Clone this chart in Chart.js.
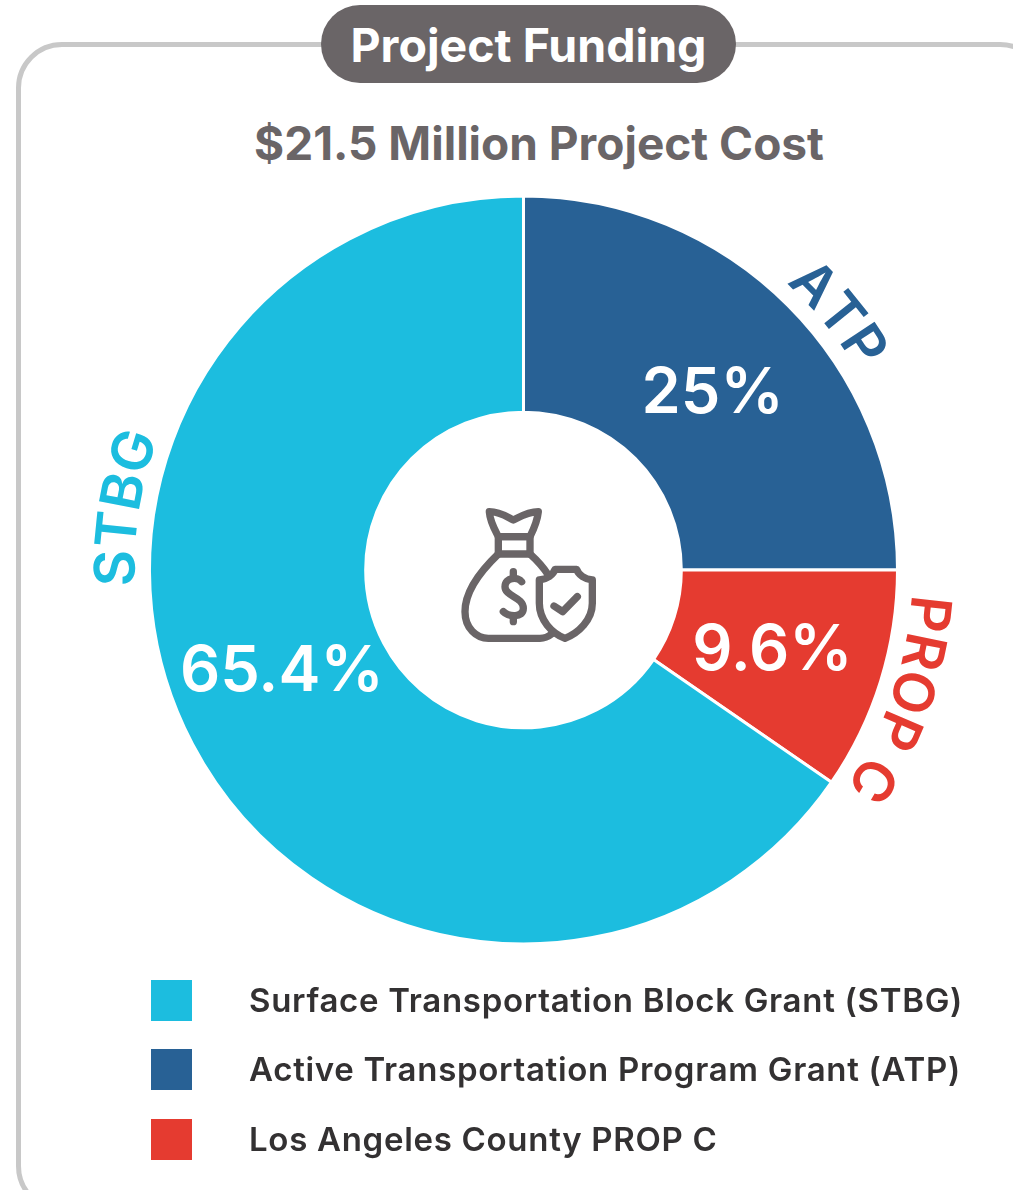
<!DOCTYPE html>
<html>
<head>
<meta charset="utf-8">
<title>Project Funding</title>
<script src="https://cdn.jsdelivr.net/npm/chart.js@4/dist/chart.umd.min.js"></script>
<style>
    html, body { margin: 0; padding: 0; background: #fff; }
    body { position: relative; width: 1013px; height: 1190px; overflow: hidden; font-family: Inter, sans-serif; }
    .frame { position: absolute; left: 16px; top: 42px; width: 1020px; height: 1160px; border: 5px solid #c8c8c8; border-radius: 46px; }
    .pill { position: absolute; left: 321px; top: 5px; width: 415px; height: 78px; border-radius: 39px; background: #6a6567;
            color: #fff; font-size: 46.5px; font-weight: 700; line-height: 80px; text-align: center; }
    .subtitle { position: absolute; left: 239px; top: 113px; width: 600px; text-align: center; color: #6a6567;
                font-size: 46px; font-weight: 700; line-height: 60px; }
    #fundingChart { position: absolute; left: 0; top: 0; }
    .icon { position: absolute; left: 430px; top: 480px; }
    .legend-row { position: absolute; left: 151px; height: 41px; }
    .legend-box { position: absolute; left: 0; top: 0; width: 41px; height: 41px; }
    .legend-text { position: absolute; left: 98px; top: 0; line-height: 41px; font-size: 33px; font-weight: 600; letter-spacing: 0.7px; color: #333132; white-space: nowrap; }
</style>
</head>
<body>
<div class="frame"></div>
<div class="pill">Project Funding</div>
<div class="subtitle">$21.5 Million Project Cost</div>
<canvas id="fundingChart" width="1013" height="1190"></canvas>
<svg class="icon" width="190" height="180" viewBox="0 0 570 540" fill="none" stroke="#6a6567" stroke-width="22" stroke-linecap="round" stroke-linejoin="round">
    <path d="M178 95 C210 95 230 110 250 120 C270 110 295 95 325 95 C322 125 310 150 300 170 H205 C195 150 180 125 178 95 Z"/>
    <rect x="205" y="170" width="95" height="52"/>
    <path d="M205 222 C160 265 105 330 105 395 C105 445 140 475 175 475 H330 C345 475 355 470 365 462"/>
    <path d="M300 222 C320 240 340 262 355 285"/>
    <path d="M275 305 C265 290 225 290 225 320 C225 350 280 350 280 385 C280 415 235 410 220 395"/>
    <path d="M250 275 V295 M250 408 V425"/>
    <path d="M375 268 H440 C445 285 465 298 487 300 V370 C487 420 445 460 405 475 C365 460 328 420 328 370 V300 C350 298 370 285 375 268 Z"/>
    <path d="M372 378 L398 395 L442 350"/>
</svg>
<div id="legend"></div>

<script>
const categories = ['Active Transportation Program Grant (ATP)', 'Los Angeles County PROP C', 'Surface Transportation Block Grant (STBG)'];
const shortNames = ['ATP', 'PROP C', 'STBG'];
const shares = [25, 9.6, 65.4];
const shareLabels = ['25%', '9.6%', '65.4%'];
const colors = ['#286195', '#e53b30', '#1cbddf'];

// legend runs in a different order than the slices
const legendOrder = [2, 0, 1];
const legendTops = [980, 1049, 1119];

// label placement around the ring, degrees clockwise from 12 o'clock
const shareAngles = [46.5, 107.3, 248];
const nameAngles = [50.5, 108.8, 278.8];

const ringLabels = {
    id: 'ringLabels',
    afterDatasetsDraw(chart) {
        const ctx = chart.ctx;
        const arcs = chart.getDatasetMeta(0).data;
        const cx = arcs[0].x;
        const cy = arcs[0].y;
        const outer = arcs[0].outerRadius;

        ctx.save();
        ctx.textBaseline = 'middle';
        ctx.textAlign = 'center';
        ctx.fillStyle = '#fff';
        ctx.font = '600 63px Inter';
        shareLabels.forEach((label, i) => {
            const a = shareAngles[i] * Math.PI / 180;
            // +4 because Inter digits sit above the middle baseline
            ctx.fillText(label, cx + Math.sin(a) * (outer * 0.697), cy - Math.cos(a) * (outer * 0.697) + 4);
        });

        // names follow the outside of the ring, one letter at a time
        ctx.font = '600 56px Inter';
        ctx.textBaseline = 'alphabetic';
        const baseline = outer + 15;
        shortNames.forEach((name, i) => {
            const total = ctx.measureText(name).width;
            let a = nameAngles[i] * Math.PI / 180 - (total / 2) / baseline;
            ctx.fillStyle = colors[i];
            for (const ch of name) {
                const w = ctx.measureText(ch).width;
                const mid = a + (w / 2) / baseline;
                ctx.save();
                ctx.translate(cx + Math.sin(mid) * baseline, cy - Math.cos(mid) * baseline);
                ctx.rotate(mid);
                ctx.fillText(ch, 0, 0);
                ctx.restore();
                a += w / baseline;
            }
        });
        ctx.restore();
    }
};

function renderLegend() {
    const container = document.getElementById('legend');
    container.innerHTML = legendOrder.map((idx, row) => `
        <div class="legend-row" style="top: ${legendTops[row]}px">
            <div class="legend-box" style="background: ${colors[idx]}"></div>
            <div class="legend-text">${categories[idx]}</div>
        </div>
    `).join('');
}

function renderChart() {
    new Chart(document.getElementById('fundingChart'), {
        type: 'doughnut',
        data: {
            labels: categories,
            datasets: [{
                data: shares,
                backgroundColor: colors,
                borderColor: '#fff',
                borderWidth: 3
            }]
        },
        options: {
            responsive: false,
            animation: false,
            cutout: '42.2%',
            layout: { padding: { left: 148, right: 114, top: 194.5, bottom: 244.5 } },
            plugins: {
                legend: { display: false },
                tooltip: { enabled: false }
            }
        },
        plugins: [ringLabels]
    });
}

renderLegend();
renderChart();
</script>
</body>
</html>
